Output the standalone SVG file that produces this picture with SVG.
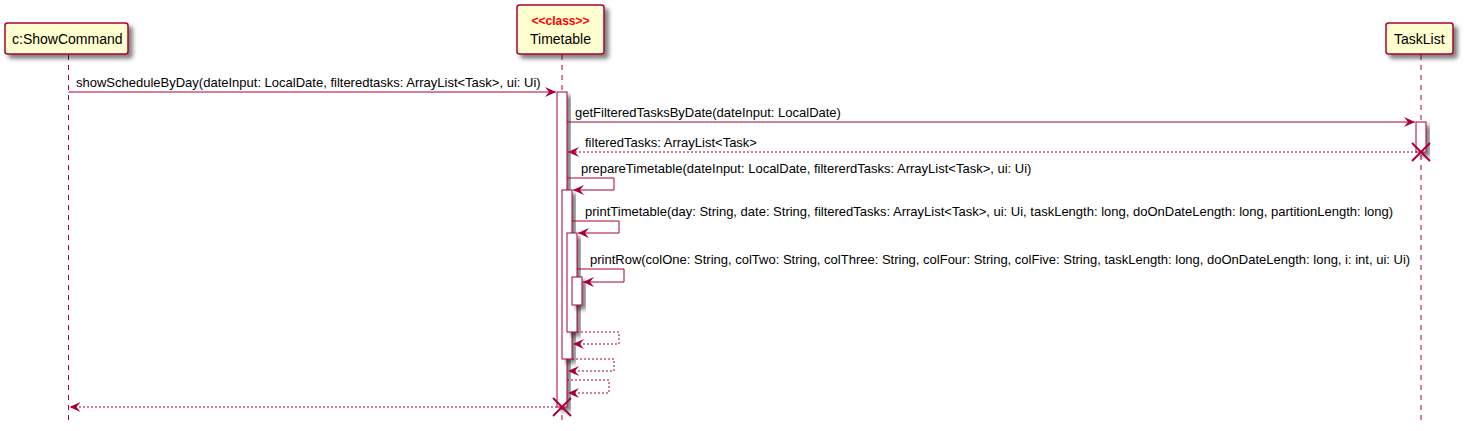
<svg xmlns="http://www.w3.org/2000/svg" width="1466" height="431" viewBox="0 0 1466 431">
<defs>
<filter id="sh" x="-20%" y="-20%" width="160%" height="160%">
<feGaussianBlur in="SourceAlpha" stdDeviation="2"/>
<feOffset dx="4" dy="4" result="b"/>
<feFlood flood-color="#000" flood-opacity="0.5"/>
<feComposite in2="b" operator="in"/>
<feMerge><feMergeNode/><feMergeNode in="SourceGraphic"/></feMerge>
</filter>
<marker id="ah" viewBox="0 0 12 10" refX="11" refY="5" markerWidth="12" markerHeight="10" markerUnits="userSpaceOnUse" orient="auto">
<polygon points="0,0 11,5 0,10 4,5" fill="#A80036"/>
</marker>
</defs>
<style>
.box{fill:#FEFECE;stroke:#A80036;stroke-width:1.5}
.act{fill:#FFFFFF;stroke:#A80036;stroke-width:1}
.life{stroke:#A80036;stroke-width:1;stroke-dasharray:5,5;fill:none}
.msg{stroke:#A80036;stroke-width:1;fill:none}
.ret{stroke:#A80036;stroke-width:1;fill:none;stroke-dasharray:2,2}
.x{stroke:#A80036;stroke-width:2}
.t{font-family:"Liberation Sans",Arial,sans-serif;font-size:13px;fill:#000}
.pn{font-family:"Liberation Sans",Arial,sans-serif;font-size:14px;fill:#000}
.st{font-family:"Liberation Sans",Arial,sans-serif;font-size:12px;font-weight:bold;fill:#FF0000}
</style>
<g id="lifelines">
<line class="life" x1="68.5" y1="55" x2="68.5" y2="425"/>
<line class="life" x1="562" y1="55" x2="562" y2="425"/>
<line class="life" x1="1421" y1="55" x2="1421" y2="425"/>
</g>
<g id="p-showcommand">
<rect class="box" x="5" y="23" width="123" height="31" rx="2.5" filter="url(#sh)"/>
<text class="pn" x="12" y="44">c:ShowCommand</text>
</g>
<g id="p-timetable">
<rect class="box" x="517" y="5" width="87" height="49" rx="2.5" filter="url(#sh)"/>
<text class="st" x="560.5" y="25" text-anchor="middle">&lt;&lt;class&gt;&gt;</text>
<text class="pn" x="560.5" y="44" text-anchor="middle">Timetable</text>
</g>
<g id="p-tasklist">
<rect class="box" x="1386" y="23" width="67" height="31" rx="2.5" filter="url(#sh)"/>
<text class="pn" x="1394" y="44">TaskList</text>
</g>
<g id="activations">
<rect class="act" x="557" y="92" width="10" height="315" filter="url(#sh)"/>
<rect class="act" x="1416" y="122" width="10" height="30" filter="url(#sh)"/>
<rect class="act" x="562" y="190" width="10" height="169" filter="url(#sh)"/>
<rect class="act" x="567" y="233" width="10" height="99" filter="url(#sh)"/>
<rect class="act" x="572" y="277" width="10" height="28" filter="url(#sh)"/>
</g>
<g id="connectors">
<line class="msg" x1="68.5" y1="92" x2="556" y2="92" marker-end="url(#ah)"/>
<text class="t" x="76" y="87">showScheduleByDay(dateInput: LocalDate, filteredtasks: ArrayList&lt;Task&gt;, ui: Ui)</text>
<line class="msg" x1="567" y1="122" x2="1415" y2="122" marker-end="url(#ah)"/>
<text class="t" x="575" y="117">getFilteredTasksByDate(dateInput: LocalDate)</text>
<line class="ret" x1="1421" y1="152" x2="568" y2="152" marker-end="url(#ah)"/>
<text class="t" x="585" y="147">filteredTasks: ArrayList&lt;Task&gt;</text>
<polyline class="msg" points="567,178 614,178 614,190 573,190" marker-end="url(#ah)"/>
<text class="t" x="581" y="173">prepareTimetable(dateInput: LocalDate, filtererdTasks: ArrayList&lt;Task&gt;, ui: Ui)</text>
<polyline class="msg" points="572,221 619,221 619,233 578,233" marker-end="url(#ah)"/>
<text class="t" x="585" y="216">printTimetable(day: String, date: String, filteredTasks: ArrayList&lt;Task&gt;, ui: Ui, taskLength: long, doOnDateLength: long, partitionLength: long)</text>
<polyline class="msg" points="577,269 624,269 624,282 583,282" marker-end="url(#ah)"/>
<text class="t" x="590" y="264">printRow(colOne: String, colTwo: String, colThree: String, colFour: String, colFive: String, taskLength: long, doOnDateLength: long, i: int, ui: Ui)</text>
<polyline class="ret" points="577,332 619,332 619,344 573,344" marker-end="url(#ah)"/>
<polyline class="ret" points="572,359 614,359 614,371 568,371" marker-end="url(#ah)"/>
<polyline class="ret" points="567,380 609,380 609,393 568,393" marker-end="url(#ah)"/>
<line class="ret" x1="557" y1="407" x2="69.5" y2="407" marker-end="url(#ah)"/>
<g id="destroy">
<line class="x" x1="1412" y1="143" x2="1430" y2="161"/>
<line class="x" x1="1430" y1="143" x2="1412" y2="161"/>
<line class="x" x1="553" y1="398" x2="571" y2="416"/>
<line class="x" x1="571" y1="398" x2="553" y2="416"/>
</g>
</g>
</svg>
